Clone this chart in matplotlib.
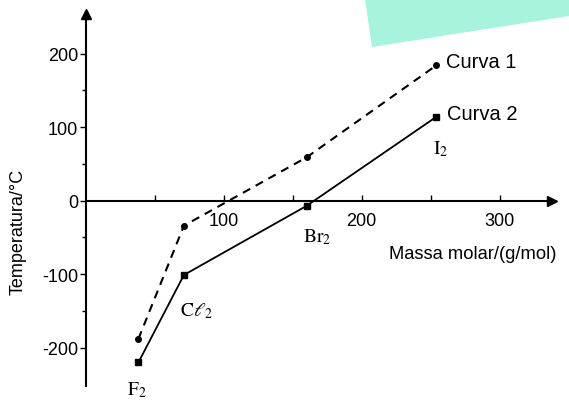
import numpy as np
import matplotlib
matplotlib.use("Agg")
import matplotlib.pyplot as plt
from matplotlib.patches import Polygon

# -------------------------------
# Data
# -------------------------------

substances = ["F", "Cl", "Br", "I"]
molar_mass = [38, 71, 160, 254]

curve1_temp = [-188, -34, 59, 184]     # Curva 1 (dashed, circles)
curve2_temp = [-220, -101, -7, 114]    # Curva 2 (solid, squares)

x_major = [100, 200, 300]
x_minor = [50, 150, 250]
y_major = [-200, -100, 0, 100, 200]
y_minor = [-150, -50, 50, 150]

species_labels = [r"$\mathrm{F}_2$", r"$\mathrm{C}\ell_2$", r"$\mathrm{Br}_2$", r"$\mathrm{I}_2$"]

plt.rcParams["font.family"] = ["Liberation Sans", "DejaVu Sans"]
plt.rcParams["mathtext.fontset"] = "stix"
plt.rcParams["axes.unicode_minus"] = False

# -------------------------------
# Figure
# -------------------------------

fig = plt.figure(figsize=(5.69, 4.02), dpi=100)
fig.patch.set_facecolor("white")

# decorative mint shape at the top right
deco = Polygon(
    [(365 / 569, 1.0), (1.0, 1.0), (1.0, 1 - 17 / 402), (372 / 569, 1 - 48 / 402)],
    closed=True, transform=fig.transFigure, facecolor="#a8f3dd",
    edgecolor="none", zorder=0,
)
fig.patches.append(deco)

ax = fig.add_axes([86 / 569, 1 - 387 / 402, (552 - 86) / 569, (387 - 15) / 402])
ax.set_facecolor("none")
ax.set_xlim(0, 338)
ax.set_ylim(-252, 254)

# axes through the origin
for side in ["top", "right"]:
    ax.spines[side].set_visible(False)
ax.spines["left"].set_position(("data", 0))
ax.spines["bottom"].set_position(("data", 0))
ax.spines["left"].set_linewidth(1.5)
ax.spines["bottom"].set_linewidth(1.5)

ax.plot(1, 0, ">k", markersize=7, transform=ax.get_yaxis_transform(), clip_on=False)
ax.plot(0, 1, "^k", markersize=7, transform=ax.get_xaxis_transform(), clip_on=False)

ax.set_xticks(x_major)
ax.set_xticks(x_minor, minor=True)
ax.set_yticks(y_major)
ax.set_yticks(y_minor, minor=True)

ax.tick_params(axis="x", which="both", direction="in", length=4, width=1, pad=8,
               labelsize=13)
ax.tick_params(axis="y", which="major", direction="out", length=4.5, width=1, pad=1,
               labelsize=13)
ax.tick_params(axis="y", which="minor", direction="out", length=3, width=1)

# -------------------------------
# Curves
# -------------------------------

ax.plot(molar_mass, curve1_temp, color="black", linestyle=(0, (4, 3)), linewidth=1.5,
        marker="o", markersize=4, clip_on=False)
ax.plot(molar_mass, curve2_temp, color="black", linestyle="-", linewidth=1.3,
        marker="s", markersize=4.5, clip_on=False)

# species labels
label_pos = [(37, -256), (80, -149), (168, -48), (257, 71)]
for (lx, ly), txt in zip(label_pos, species_labels):
    ax.text(lx, ly, txt, ha="center", va="center", fontsize=14)

ax.text(261, 190, "Curva 1", ha="left", va="center", fontsize=14.5)
ax.text(262, 118, "Curva 2", ha="left", va="center", fontsize=14.5)

ax.text(220, -72, "Massa molar/(g/mol)", ha="left", va="center", fontsize=13.2)
fig.text(18 / 569, 1 - 232 / 402, "Temperatura/°C", rotation=90,
         ha="center", va="center", fontsize=13)

fig.savefig("out.png", dpi=100)
plt.close(fig)
